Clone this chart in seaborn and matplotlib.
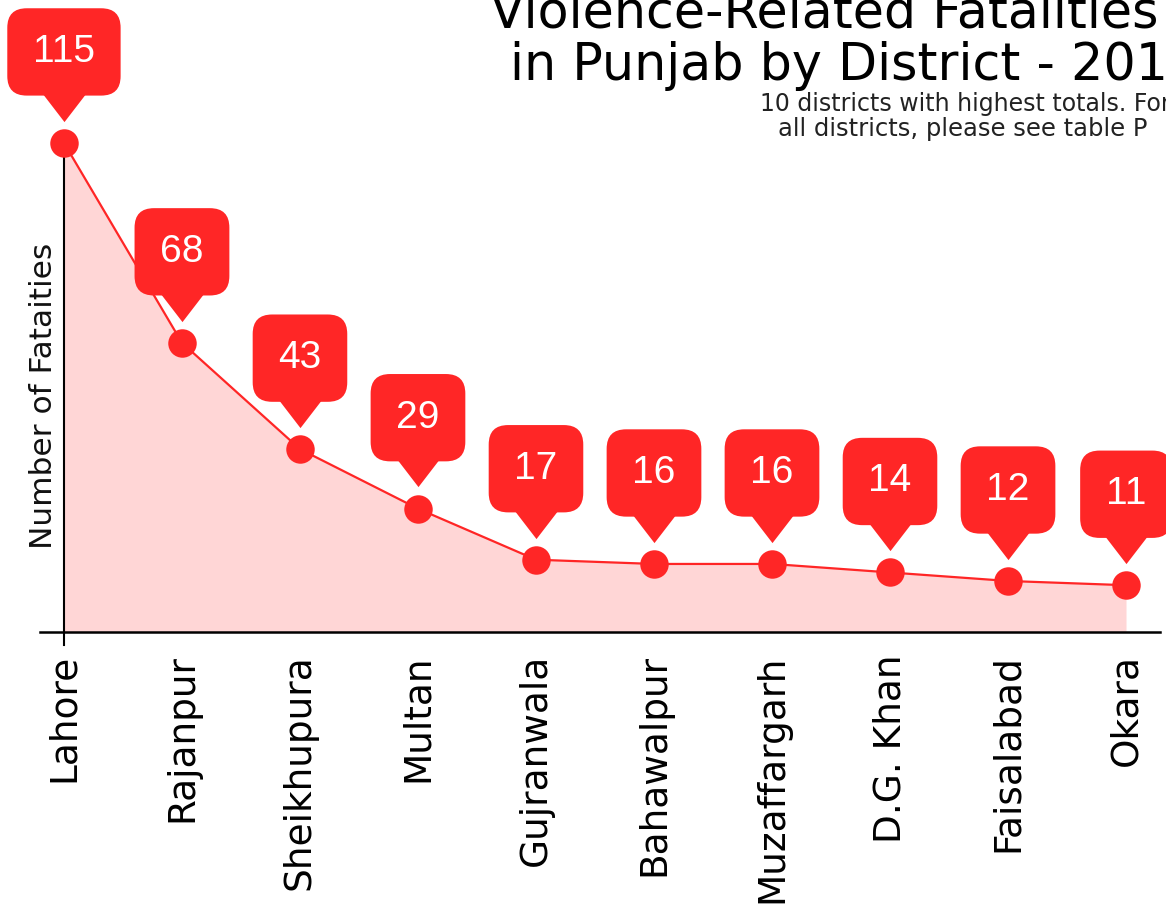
import matplotlib
matplotlib.use("Agg")
import matplotlib.pyplot as plt
from matplotlib.transforms import offset_copy
import seaborn as sns
import pandas as pd

districts = ["Lahore", "Rajanpur", "Sheikhupura", "Multan", "Gujranwala",
             "Bahawalpur", "Muzaffargarh", "D.G. Khan", "Faisalabad", "Okara"]
fatalities = [115, 68, 43, 29, 17, 16, 16, 14, 12, 11]

RED = "#ff2626"
PINK = "#ffd6d6"
W, H = 1166, 911

sns.set_theme(style="white")
plt.rcParams["font.family"] = ["DejaVu Sans"]

df = pd.DataFrame({"pos": range(len(districts)), "district": districts, "value": fatalities})

fig = plt.figure(figsize=(W / 100, H / 100), dpi=100)
ax = fig.add_axes([40 / W, (H - 632) / H, 1120 / W, 632 / H])

ax.fill_between(df["pos"], df["value"], 0, color=PINK, lw=0, zorder=1)
sns.lineplot(data=df, x="pos", y="value", ax=ax, color=RED, lw=1.6,
             marker="o", markersize=20.5, markeredgewidth=0, zorder=3)

# callout pointer triangles + boxes
tri = offset_copy(ax.transData, fig=fig, x=0, y=24.6, units="points")
ax.scatter(df["pos"], df["value"], transform=tri, s=33 ** 2, color=RED, lw=0,
           marker=[(-1, 0.75), (1, 0.75), (0, -0.55)], zorder=4)
for p, v in zip(df["pos"], df["value"]):
    ax.annotate(str(v), (p, v), xytext=(0, 65.5), textcoords="offset points",
                ha="center", va="center", fontsize=28, color="white",
                family="Liberation Sans", zorder=5,
                bbox=dict(boxstyle="round,pad=0.66,rounding_size=0.5", fc=RED, ec="none"))

ax.set_xlim(-0.203, 9.288)
ax.set_ylim(0, 148.6)
ax.set_xticks(df["pos"])
ax.set_xticklabels(districts, rotation=90, fontsize=27, va="top", ha="center")
ax.tick_params(axis="x", length=0, pad=16, colors="black")
ax.set_yticks([])
ax.set_xlabel("")
ax.set_ylabel("Number of Fataities", fontsize=22.5, color="#111111")
ax.yaxis.set_label_coords(0.016, 0.373)

for s in ["top", "right"]:
    ax.spines[s].set_visible(False)
ax.spines["bottom"].set_color("black")
ax.spines["bottom"].set_linewidth(1.8)
ax.spines["left"].set_color("black")
ax.spines["left"].set_linewidth(1.5)
ax.spines["left"].set_position(("data", 0))
ax.spines["left"].set_bounds(-3, 115)

# title and subtitle (cropped at the right edge like the source)
fig.text(490 / W, 1 - 28 / H, "Violence-Related Fatalities", fontsize=36.5,
         ha="left", va="baseline", color="black")
fig.text(510 / W, 1 - 80 / H, "in Punjab by District - 2016", fontsize=36.5,
         ha="left", va="baseline", color="black")
fig.text(760 / W, 1 - 111 / H, "10 districts with highest totals. For", fontsize=17,
         ha="left", va="baseline", color="#222222")
fig.text(778 / W, 1 - 136 / H, "all districts, please see table P", fontsize=17.5,
         ha="left", va="baseline", color="#222222")

fig.savefig("out.png", dpi=100)
